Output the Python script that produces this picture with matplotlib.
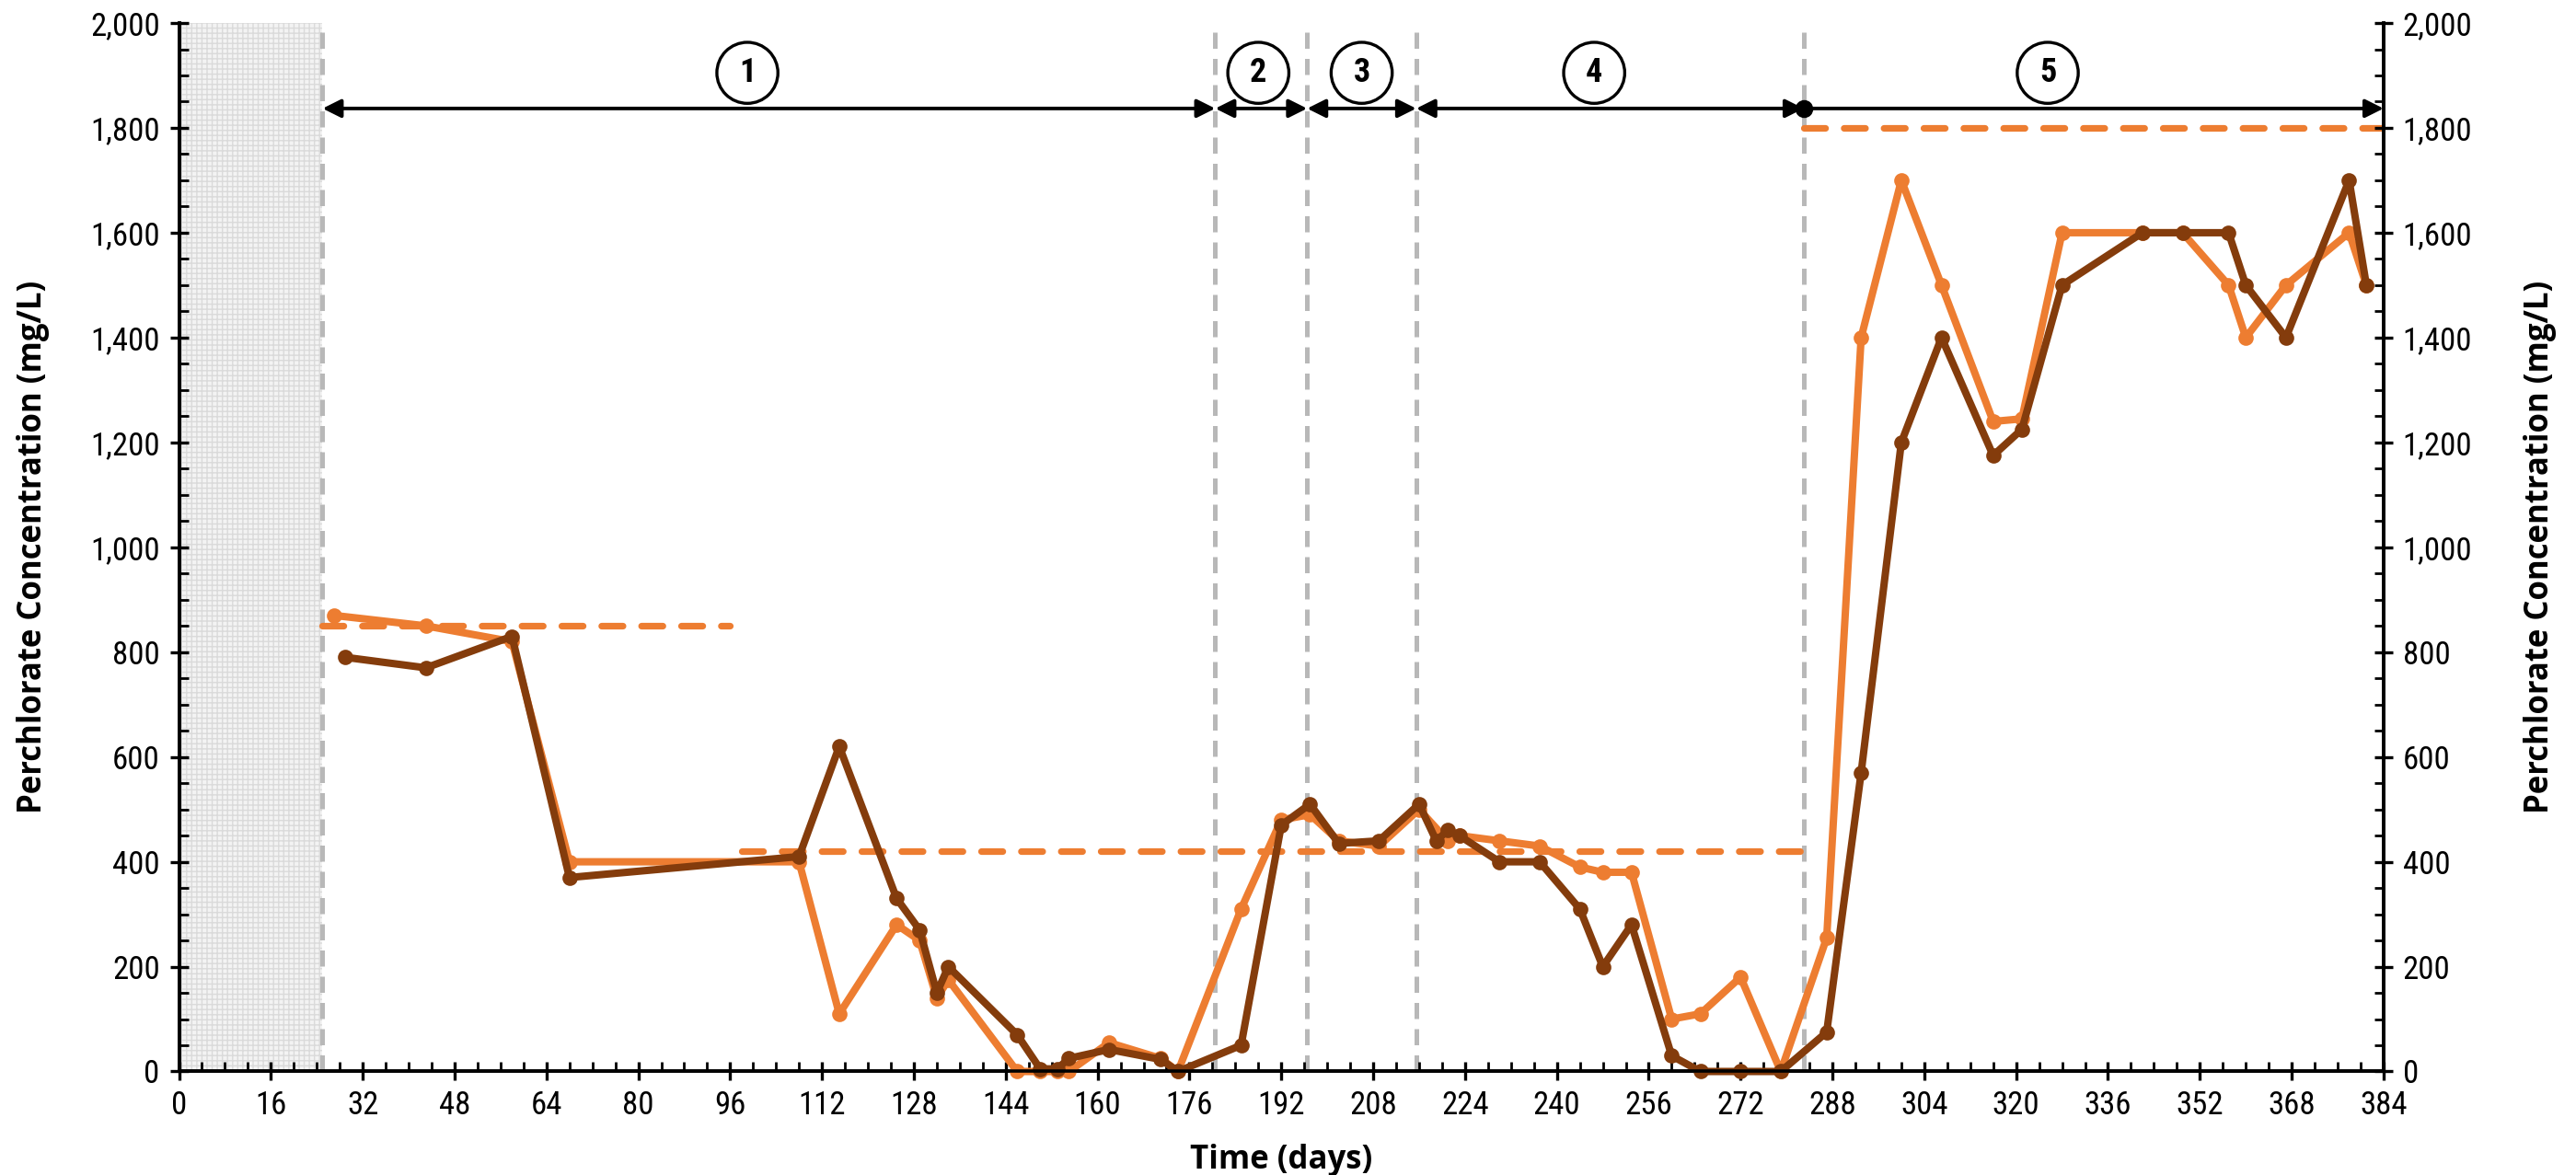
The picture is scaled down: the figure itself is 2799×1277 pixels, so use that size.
import matplotlib
matplotlib.use("Agg")
import matplotlib.pyplot as plt
from matplotlib import font_manager
from matplotlib.ticker import MultipleLocator, FuncFormatter

# effluent (orange) and second series (brown), days vs mg/L
orange_days = [27, 43, 58, 68, 108, 115, 125, 129, 132, 134, 146, 150, 153, 155,
               162, 171, 174, 185, 192, 197, 202, 209, 216, 221, 223, 230, 237,
               244, 248, 253, 260, 265, 272, 279, 287, 293, 300, 307, 316, 321,
               328, 342, 349, 357, 360, 367, 378, 381]
orange_vals = [870, 850, 820, 400, 400, 110, 280, 250, 140, 175, 0, 0, 0, 0,
               55, 25, 0, 310, 480, 490, 440, 430, 500, 440, 450, 440, 430,
               390, 380, 380, 100, 110, 180, 0, 255, 1400, 1700, 1500, 1240, 1245,
               1600, 1600, 1600, 1500, 1400, 1500, 1600, 1500]

brown_days = [29, 43, 58, 68, 108, 115, 125, 129, 132, 134, 146, 150, 153, 155,
              162, 171, 174, 185, 192, 197, 202, 209, 216, 219, 221, 223, 230,
              237, 244, 248, 253, 260, 265, 272, 279, 287, 293, 300, 307, 316,
              321, 328, 342, 349, 357, 360, 367, 378, 381]
brown_vals = [790, 770, 830, 370, 410, 620, 330, 270, 150, 200, 70, 5, 5, 25,
              42, 23, 0, 50, 470, 510, 435, 440, 510, 440, 460, 450, 400,
              400, 310, 200, 280, 30, 0, 0, 0, 75, 570, 1200, 1400, 1175,
              1225, 1500, 1600, 1600, 1600, 1500, 1400, 1700, 1500]

# influent target levels (dashed)
target_start = [25, 98, 283]
target_end = [96, 283, 384]
target_vals = [850, 420, 1800]

# phase boundaries and labels
phase_edges = [25, 180.5, 196.5, 215.5, 283, 384]
phase_labels = ["1", "2", "3", "4", "5"]
label_days = [99, 188, 206, 246.5, 325.5]
acclim_end = 25

ORANGE = "#ED7D31"
BROWN = "#843C0C"


def pick(names):
    have = {f.name for f in font_manager.fontManager.ttflist}
    for n in names:
        if n in have:
            return n
    return "DejaVu Sans"


TICK_FONT = pick(["Liberation Sans Narrow", "Roboto Condensed", "Open Sans Condensed", "Liberation Sans"])
LABEL_FONT = pick(["Open Sans", "DejaVu Sans"])

plt.rcParams["hatch.linewidth"] = 0.5

fig = plt.figure(figsize=(2799 / 200, 1277 / 200), dpi=200)
ax = fig.add_axes([0.0695, 0.0881, 0.8558, 0.8923])

ax.axvspan(0, acclim_end, facecolor="#f3f3f3", edgecolor="#dadada",
           hatch="++++++", lw=0, zorder=0)

for x in phase_edges[:-1]:
    ax.axvline(x, color="#b8b8b8", lw=1.8, ls=(0, (3.5, 2.2)), zorder=1)

for x0, x1, v in zip(target_start, target_end, target_vals):
    ax.plot([x0, x1], [v, v], color=ORANGE, lw=2.6, ls=(0, (3.2, 2.8)),
            dash_capstyle="round", zorder=2)

ax.plot(orange_days, orange_vals, color=ORANGE, lw=2.9, marker="o", ms=5,
        zorder=3, clip_on=False)
ax.plot(brown_days, brown_vals, color=BROWN, lw=2.9, marker="o", ms=5,
        zorder=4, clip_on=False)

arrow_y = 1837
for i in range(5):
    a, b = phase_edges[i], phase_edges[i + 1]
    style = "-|>" if i == 4 else "<|-|>"
    ax.annotate("", xy=(b, arrow_y), xytext=(a, arrow_y),
                arrowprops=dict(arrowstyle=style, color="black", lw=1.4,
                                mutation_scale=15, shrinkA=0, shrinkB=0))
    ax.text(label_days[i], 1905, phase_labels[i], ha="center", va="center",
            fontsize=13, fontweight="bold", family=TICK_FONT,
            bbox=dict(boxstyle="circle,pad=0.42", fc="white", ec="black", lw=1.2))
ax.plot([phase_edges[4]], [arrow_y], "o", color="black", ms=6, zorder=6)

ax.set_xlim(0, 384)
ax.set_ylim(0, 2000)
ax.xaxis.set_major_locator(MultipleLocator(16))
ax.xaxis.set_minor_locator(MultipleLocator(4))
ax.yaxis.set_major_locator(MultipleLocator(200))
ax.yaxis.set_minor_locator(MultipleLocator(50))
fmt = FuncFormatter(lambda v, p: f"{int(v):,}")
ax.yaxis.set_major_formatter(fmt)

ax2 = ax.twinx()
ax2.set_ylim(0, 2000)
ax2.yaxis.set_major_locator(MultipleLocator(200))
ax2.yaxis.set_minor_locator(MultipleLocator(50))
ax2.yaxis.set_major_formatter(fmt)

for a in (ax, ax2):
    for s in a.spines.values():
        s.set_linewidth(1.3)
    a.spines["top"].set_visible(False)
    a.tick_params(which="major", direction="inout", length=7, width=1.2,
                  labelsize=12.5, pad=4)
    a.tick_params(which="minor", direction="in", length=3.5, width=1.0)
    for lab in a.get_xticklabels() + a.get_yticklabels():
        lab.set_family(TICK_FONT)

ax.set_xlabel("Time (days)", fontsize=12.5, fontweight="bold", family=LABEL_FONT, labelpad=9)
ax.set_ylabel("Perchlorate Concentration (mg/L)", fontsize=12.5, fontweight="bold",
              family=LABEL_FONT, labelpad=16)
ax2.set_ylabel("Perchlorate Concentration (mg/L)", fontsize=12.5, fontweight="bold",
               family=LABEL_FONT, labelpad=20)

fig.savefig("out.png", dpi=200)
print("fonts:", TICK_FONT, LABEL_FONT)
